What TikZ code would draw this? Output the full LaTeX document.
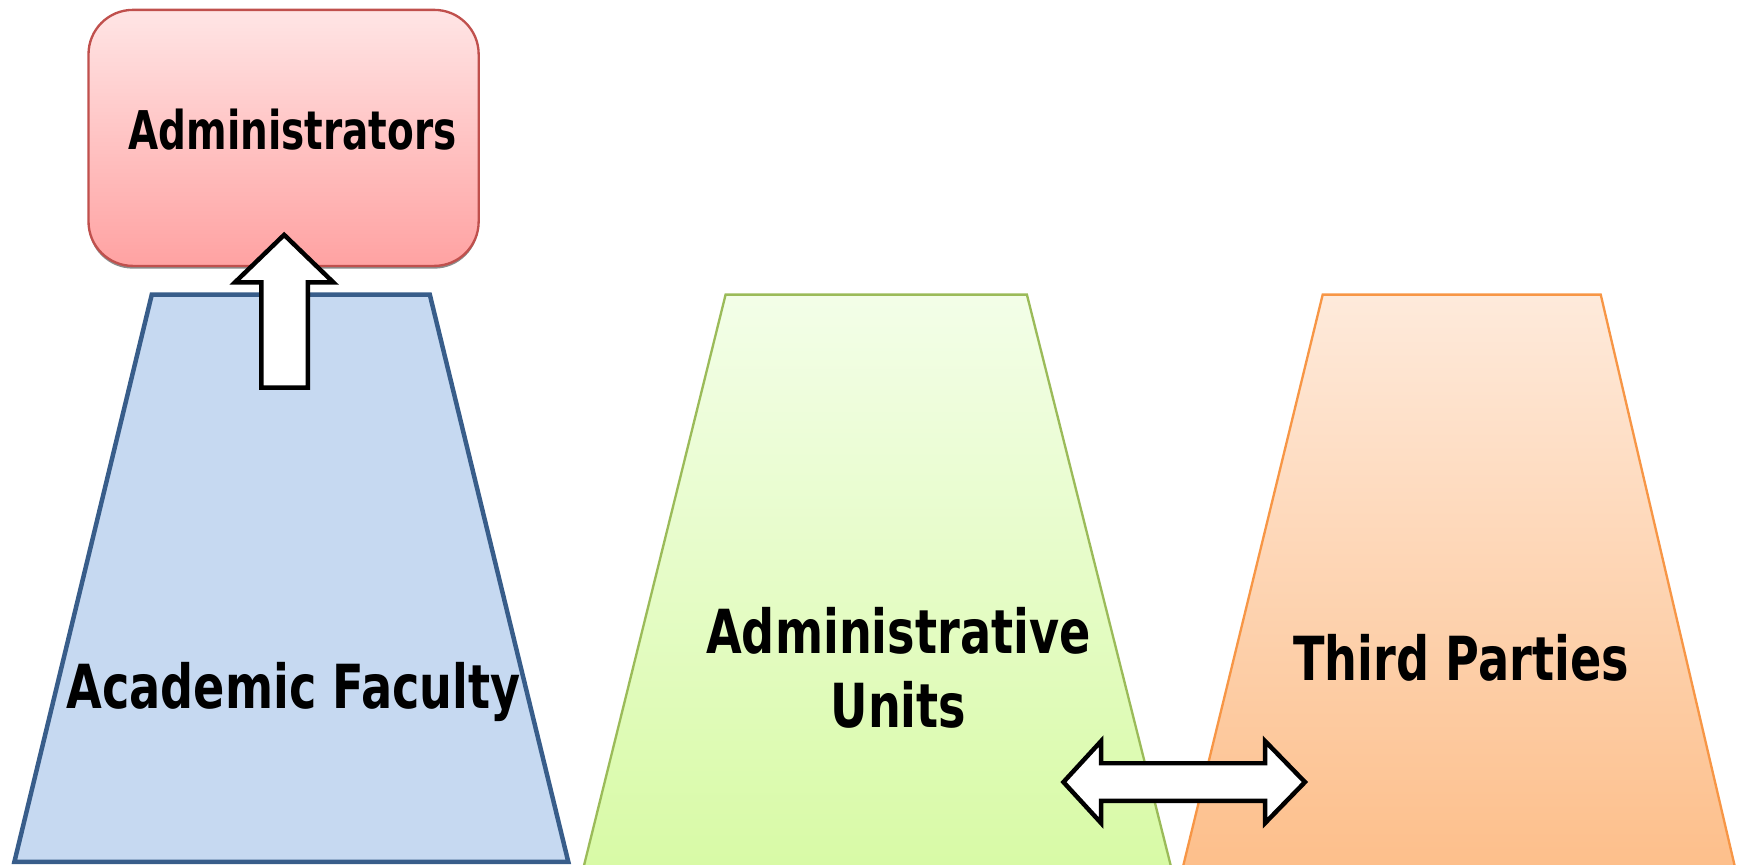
\documentclass[tikz,border=0pt]{standalone}
\usepackage{fontspec}
\setmainfont{DejaVu Sans}
\newfontfamily\lblfont[FakeStretch=0.76]{DejaVu Sans}
\newfontfamily\lblfontsmall[FakeStretch=0.73]{DejaVu Sans}
\usetikzlibrary{shadows}
\definecolor{admtop}{HTML}{FFE5E5}
\definecolor{admbot}{HTML}{FFA2A2}
\definecolor{admline}{HTML}{C0504D}
\definecolor{bluefill}{HTML}{C6D9F1}
\definecolor{blueline}{HTML}{385D8A}
\definecolor{grntop}{HTML}{F3FEE8}
\definecolor{grnbot}{HTML}{D8FAA6}
\definecolor{grnline}{HTML}{9BBB59}
\definecolor{orgtop}{HTML}{FEEADB}
\definecolor{orgbot}{HTML}{FDBF8B}
\definecolor{orgline}{HTML}{F79646}
\tikzset{
  adminbox/.style={draw=admline, line width=0.6pt, top color=admtop, bottom color=admbot,
    rounded corners=0.4cm, minimum width=3.52cm, minimum height=2.31cm, inner sep=0pt,
    drop shadow={shadow xshift=0pt, shadow yshift=-0.7pt, fill=black!45, opacity=1}},
  bigtext/.style={font=\lblfont\bfseries\fontsize{15.6}{19}\selectfont, inner sep=0pt, anchor=base},
  smalltext/.style={font=\lblfontsmall\bfseries\fontsize{13.7}{17}\selectfont, inner sep=0pt, anchor=base},
  blockarrow/.style={draw=black, fill=white, line width=1.15pt, line join=miter},
}
\begin{document}
\begin{tikzpicture}[x=0.01cm,y=-0.01cm]
\useasboundingbox (0,0) rectangle (1568,780);
% Administrators box
\node[adminbox] (admin) at (256,124.5) {};
\node[smalltext] (admintext) at (264,135) {Administrators};
% Academic Faculty trapezoid
\draw[blueline, fill=bluefill, line width=1.15pt, line join=miter]
  (137,266) -- (388,266) -- (513,778) -- (13,778) -- cycle;
\node[bigtext] (faculty) at (265,640) {Academic Faculty};
% Administrative Units trapezoid
\draw[grnline, top color=grntop, bottom color=grnbot, line width=0.6pt]
  (655,266) -- (927,266) -- (1057,782) -- (527,782) -- cycle;
\node[bigtext] (units1) at (811,590) {Administrative};
\node[bigtext] (units2) at (811,657) {Units};
% Third Parties trapezoid
\draw[orgline, top color=orgtop, bottom color=orgbot, line width=0.6pt]
  (1194,266) -- (1445,266) -- (1566,782) -- (1068,782) -- cycle;
\node[bigtext] (third) at (1319,614) {Third Parties};
% up arrow
\draw[blockarrow] (236,350) -- (236,255) -- (212,255) -- (256.5,212) -- (301,255)
  -- (278,255) -- (278,350) -- cycle;
% double arrow
\draw[blockarrow] (960,706) -- (994,669) -- (994,689) -- (1142,689) -- (1142,669)
  -- (1178,706) -- (1142,743) -- (1142,723) -- (994,723) -- (994,743) -- cycle;
\end{tikzpicture}
\end{document}
